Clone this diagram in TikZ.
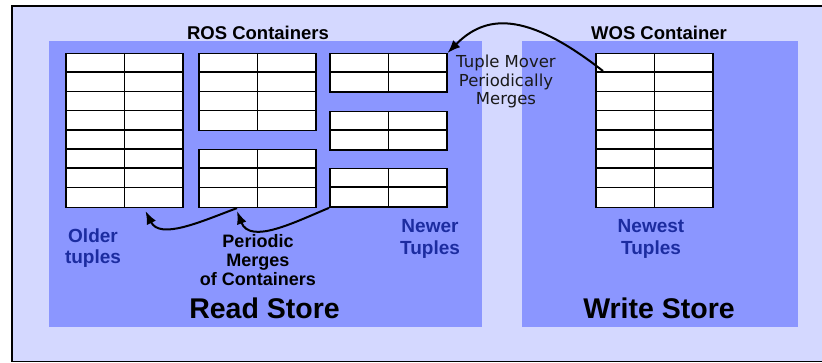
\documentclass[tikz,border=0pt]{standalone}
\usepackage{fontspec}
\setmainfont{Liberation Sans}
\newfontfamily\moverfont{DejaVu Sans}
\usepackage{xcolor}
\usepackage{tikz}
\usetikzlibrary{arrows.meta,positioning,calc}

\definecolor{outerblue}{RGB}{212,216,255}
\definecolor{storeblue}{RGB}{139,150,255}
\definecolor{tupleblue}{RGB}{28,44,160}

\tikzset{
  tbl/.style={draw, fill=white, line width=1.5pt, minimum width=117pt, inner sep=0pt, anchor=north west},
  tblline/.style={line width=1.5pt},
  mergearrow/.style={line width=2pt, -{Latex[length=13pt,width=10pt]}},
  lbl/.style={inner sep=0pt, align=center, font=\bfseries\fontsize{19}{21.5}\selectfont},
  bluelbl/.style={lbl, text=tupleblue},
  storelbl/.style={inner sep=0pt, anchor=base, font=\bfseries\fontsize{28.5}{30}\selectfont}
}

\begin{document}
\begin{tikzpicture}[x=1pt, y=-1pt]
        \useasboundingbox (0,0) rectangle (822,363);

        % Background and stores
        \draw[fill=outerblue, line width=1.3pt] (12,6) rectangle (830,361.5);
        \fill[storeblue] (49,41) rectangle (482,327);
        \fill[storeblue] (522,41) rectangle (798,327);

        % Containers: name/x/y/rows
        \foreach \n/\x/\y/\r in {big/65/53/8, midA/198/53/4, midB/198/149/3,
                newA/329/53/2, newB/329/111/2, newC/329/168/2, wos/595/53/8} {
          \node[tbl, minimum height=\r*19.2pt] (\n) at (\x,\y) {};
          \draw[tblline] (\n.north) -- (\n.south);
          \foreach \k in {2,...,\r}
            \draw[tblline] ($(\n.north west)+(0,{(\k-1)*19.2})$) -- ++(117,0);
        }

        % Headers
        \node[lbl, anchor=base, font=\bfseries\fontsize{18.5}{20}\selectfont] (ros) at (258,39.3) {ROS Containers};
        \node[lbl, anchor=base, font=\bfseries\fontsize{18.5}{20}\selectfont] (wosl) at (659,39.3) {WOS Container};

        % Store labels
        \node[storelbl] (read) at (264.5,319) {Read Store};
        \node[storelbl] (write) at (659,319) {Write Store};

        % Age labels
        \node[bluelbl] (older) at (93,248) {Older\\tuples};
        \node[bluelbl] (newer) at (430,239) {Newer\\Tuples};
        \node[bluelbl] (newest) at (651,239) {Newest\\Tuples};

        % Merge labels
        \node[lbl, font=\bfseries\fontsize{18}{19.3}\selectfont] (pm) at (258,260) {Periodic\\Merges\\of Containers};
        \node[inner sep=0pt, align=center, text=black!90, font=\moverfont\fontsize{16.5}{18.5}\selectfont] (mover) at (506,81.5)
          {Tuple Mover\\Periodically\\Merges};

        % Arrows
        \coordinate (wosout) at ($(wos.north west)+(8,18)$);
        \coordinate (mrg) at ($(midB.south west)+(39,0)$);
        \coordinate (oldin) at ($(big.south east)+(-38,3)$);
        \draw[mergearrow] (wosout) .. controls (525,10) and (485,15) .. (newA.north east);
        \draw[mergearrow] (newC.south west) .. controls (295,222) and (250,245) .. ($(mrg)+(0,3)$);
        \draw[mergearrow] (mrg) .. controls (200,222) and (160,240) .. (oldin);
    \end{tikzpicture}
\end{document}
